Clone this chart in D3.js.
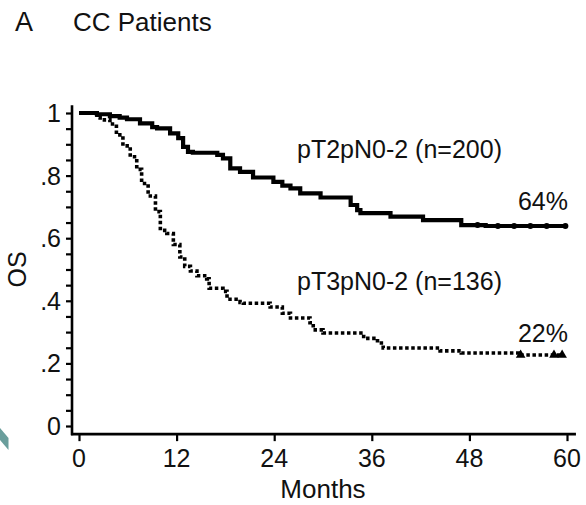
<!DOCTYPE html>
<html>
<head>
<meta charset="utf-8">
<script src="https://cdn.jsdelivr.net/npm/d3@7"></script>
<style>
  html, body { margin: 0; padding: 0; background: #fff; }
  svg { display: block; }
  text { font-family: "Liberation Sans", Arial, Helvetica, sans-serif; fill: #111; }
</style>
</head>
<body>
<svg id="chart" width="586" height="505"></svg>
<script>
// ---- Data ----
const xTicks = [0, 12, 24, 36, 48, 60];
const yTicksMajor = [0, 0.2, 0.4, 0.6, 0.8, 1];
const yTickLabels = ["0", ".2", ".4", ".6", ".8", "1"];
const yTicksMinor = d3.range(0, 21).map(i => i * 0.05);

// pT2pN0-2 (n=200), solid
const t2Months = [0, 2.2, 3.8, 5.0, 5.9, 7.5, 9.0, 9.6, 11.2, 12.2, 12.8, 13.4, 14.0, 17.0, 17.7, 18.6, 19.8, 21.4, 23.9, 25.0, 26.0, 27.2, 29.7, 33.4, 34.2, 34.6, 38.3, 42.3, 47.0, 50.0, 59.8];
const t2Surv   = [1.0, 0.996, 0.99, 0.985, 0.98, 0.967, 0.955, 0.951, 0.935, 0.92, 0.892, 0.876, 0.873, 0.866, 0.855, 0.823, 0.812, 0.794, 0.78, 0.768, 0.759, 0.743, 0.73, 0.706, 0.69, 0.68, 0.669, 0.658, 0.642, 0.639, 0.639];
const t2Censor = [49.0, 51.5, 53.5, 55.5, 57.5, 59.8];

// pT3pN0-2 (n=136), dotted
const t3Months = [0, 2.2, 2.6, 3.8, 4.6, 5.4, 6.3, 7.1, 7.7, 8.5, 9.4, 10.0, 10.8, 11.6, 12.4, 13.0, 13.7, 14.5, 15.7, 16.0, 17.7, 18.2, 19.8, 20.2, 23.5, 25.0, 26.0, 28.4, 28.8, 30.0, 35.0, 36.7, 37.4, 44.4, 47.0, 54.0, 59.6];
const t3Surv   = [1.0, 0.985, 0.978, 0.965, 0.93, 0.895, 0.86, 0.82, 0.775, 0.735, 0.685, 0.625, 0.615, 0.58, 0.54, 0.51, 0.495, 0.48, 0.47, 0.44, 0.43, 0.405, 0.395, 0.392, 0.38, 0.36, 0.345, 0.33, 0.307, 0.297, 0.28, 0.265, 0.249, 0.24, 0.233, 0.227, 0.227];
const t3Censor = [54.3, 58.4, 59.4];

const seriesLabels = ["pT2pN0-2 (n=200)", "pT3pN0-2 (n=136)"];
const endLabels = ["64%", "22%"];

// ---- Layout ----
const svg = d3.select("#chart");
const x = d3.scaleLinear().domain([0, 60]).range([79, 567]);
const y = d3.scaleLinear().domain([0, 1]).range([426, 113]);

const xAxisY = y(-0.026);
const yAxisX = x(-0.86);

// Teal decoration at bottom-left
svg.append("path")
  .attr("d", "M0,428 L8.5,438 L8.5,450 L0,440 Z")
  .attr("fill", "#6a9e9c");

// Title
svg.append("text").attr("x", 15).attr("y", 31).attr("font-size", 27).text("A");
svg.append("text").attr("x", 73).attr("y", 31).attr("font-size", 26).text("CC Patients");

// Y axis
const yAxisG = svg.append("g").attr("transform", `translate(${yAxisX},0)`);
yAxisG.call(d3.axisLeft(y).tickValues(yTicksMinor).tickSize(6).tickFormat(""))
  .call(g => g.select(".domain").remove())
  .call(g => g.selectAll(".tick line").attr("stroke", "#000").attr("stroke-width", 2.2));
svg.append("line")
  .attr("x1", yAxisX).attr("x2", yAxisX)
  .attr("y1", y(1.025)).attr("y2", xAxisY + 1)
  .attr("stroke", "#000").attr("stroke-width", 2.6);

svg.append("g").selectAll("text")
  .data(yTicksMajor)
  .join("text")
  .attr("x", 61)
  .attr("y", d => y(d) + 9)
  .attr("text-anchor", "end")
  .attr("font-size", 25)
  .text((d, i) => yTickLabels[i]);

// X axis
const xAxisG = svg.append("g").attr("transform", `translate(0,${xAxisY})`);
xAxisG.call(d3.axisBottom(x).tickValues(xTicks).tickSize(7).tickFormat(""))
  .call(g => g.select(".domain").remove())
  .call(g => g.selectAll(".tick line").attr("stroke", "#000").attr("stroke-width", 2.2));
svg.append("line")
  .attr("x1", yAxisX - 1).attr("x2", x(61.1))
  .attr("y1", xAxisY).attr("y2", xAxisY)
  .attr("stroke", "#000").attr("stroke-width", 2.6);

svg.append("g").selectAll("text")
  .data(xTicks)
  .join("text")
  .attr("x", d => x(d))
  .attr("y", 467)
  .attr("text-anchor", "middle")
  .attr("font-size", 25)
  .text(d => d);

// Axis titles
svg.append("text")
  .attr("x", x(30)).attr("y", 498)
  .attr("text-anchor", "middle")
  .attr("font-size", 26)
  .text("Months");
svg.append("text")
  .attr("transform", `translate(26,${y(0.5)}) rotate(-90)`)
  .attr("text-anchor", "middle")
  .attr("font-size", 25)
  .text("OS");

// Curves
const line = d3.line().x(d => x(d[0])).y(d => y(d[1])).curve(d3.curveStepAfter);
const t2 = t2Months.map((m, i) => [m, t2Surv[i]]);
const t3 = t3Months.map((m, i) => [m, t3Surv[i]]);

svg.append("path")
  .datum(t2)
  .attr("d", line)
  .attr("fill", "none")
  .attr("stroke", "#000")
  .attr("stroke-width", 4.2)
  .attr("stroke-linejoin", "miter");

svg.append("path")
  .datum(t3)
  .attr("d", line)
  .attr("fill", "none")
  .attr("stroke", "#000")
  .attr("stroke-width", 3.6)
  .attr("stroke-dasharray", "3.5,2.6");

// Censor marks
const stepVal = (months, surv, m) => {
  let v = surv[0];
  for (let i = 0; i < months.length; i++) if (months[i] <= m) v = surv[i];
  return v;
};
svg.append("g").selectAll("circle")
  .data(t2Censor)
  .join("circle")
  .attr("cx", d => x(d))
  .attr("cy", d => y(stepVal(t2Months, t2Surv, d)))
  .attr("r", 3)
  .attr("fill", "#000");
svg.append("g").selectAll("path")
  .data(t3Censor)
  .join("path")
  .attr("transform", d => `translate(${x(d)},${y(stepVal(t3Months, t3Surv, d))})`)
  .attr("d", d3.symbol().type(d3.symbolTriangle).size(40))
  .attr("fill", "#000");

// Series labels
svg.append("text").attr("x", 297).attr("y", 158).attr("font-size", 25).text(seriesLabels[0]);
svg.append("text").attr("x", 297).attr("y", 290).attr("font-size", 25).text(seriesLabels[1]);
svg.append("text").attr("x", 568).attr("y", 210).attr("text-anchor", "end").attr("font-size", 25).text(endLabels[0]);
svg.append("text").attr("x", 568).attr("y", 342).attr("text-anchor", "end").attr("font-size", 25).text(endLabels[1]);
</script>
</body>
</html>
